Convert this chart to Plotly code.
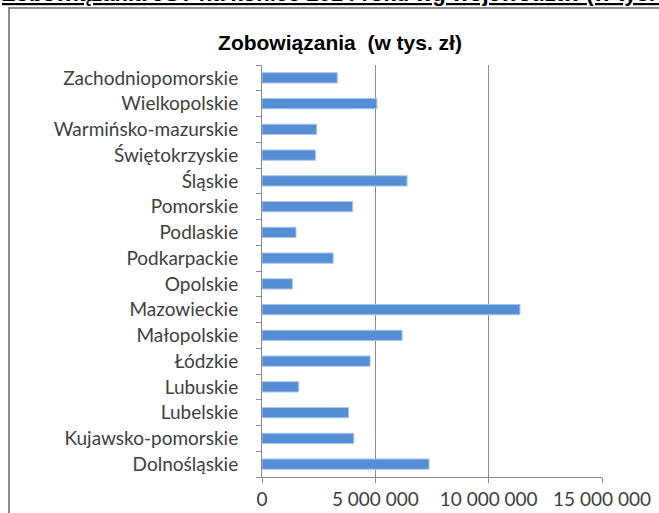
import plotly.graph_objects as go

# Dane (od dołu wykresu do góry)
wojewodztwa = [
    "Dolnośląskie", "Kujawsko-pomorskie", "Lubelskie", "Lubuskie", "Łódzkie",
    "Małopolskie", "Mazowieckie", "Opolskie", "Podkarpackie", "Podlaskie",
    "Pomorskie", "Śląskie", "Świętokrzyskie", "Warmińsko-mazurskie",
    "Wielkopolskie", "Zachodniopomorskie",
]
zobowiazania = [
    7370000, 4050000, 3820000, 1620000, 4770000,
    6180000, 11380000, 1340000, 3140000, 1500000,
    4000000, 6400000, 2360000, 2410000,
    5070000, 3320000,
]
x_ticks = [0, 5000000, 10000000, 15000000]

W, H = 659, 513
L, R, T, B = 262, 57, 65, 36
pw, ph = W - L - R, H - T - B


def px_x(p):
    return (p - L) / pw


def px_y(p):
    return (H - B - p) / ph


fig = go.Figure()
fig.add_trace(go.Bar(
    x=zobowiazania, y=wojewodztwa, orientation="h",
    marker=dict(color="#558ED5", line=dict(color="#a9c6ea", width=1)),
    showlegend=False,
))

# ramka wykresu (wychodzi poza kadr)
fig.add_shape(type="rect", xref="paper", yref="paper",
              x0=px_x(9), x1=px_x(W + 20), y0=px_y(H + 20), y1=px_y(8),
              line=dict(color="#8c8c8c", width=2), layer="below")

# ucięty nagłówek u góry
fig.add_annotation(
    xref="paper", yref="paper", x=px_x(0), y=px_y(8),
    xanchor="left", yanchor="bottom", showarrow=False,
    text="<u><b>Zobowiązania JST na koniec 2014 roku wg województw (w tys. zł)</b></u>",
    font=dict(family="Liberation Sans, Arial", size=22, color="black"),
)

fig.update_layout(
    width=W, height=H,
    margin=dict(l=L, r=R, t=T, b=B),
    paper_bgcolor="white", plot_bgcolor="white",
    separators=". ",
    bargap=0.6,
    title=dict(text="<b>Zobowiązania  (w tys. zł)</b>", xref="container", yref="container",
               x=340 / W, y=1 - 43 / H, xanchor="center", yanchor="middle",
               font=dict(family="Liberation Sans, Arial", size=21, color="black")),
    font=dict(family="Lato", size=19, color="#404040"),
    xaxis=dict(range=[0, 15000000], tickvals=x_ticks, tickformat=",.0f",
               showgrid=True, gridcolor="#8c8c8c", gridwidth=1,
               showline=True, linecolor="#8c8c8c", linewidth=1,
               ticks="outside", ticklen=5, tickcolor="#8c8c8c",
               zeroline=False, fixedrange=True, automargin=False),
    yaxis=dict(showline=True, linecolor="#8c8c8c", linewidth=1,
               ticks="outside", ticklen=5, tickcolor="#8c8c8c",
               tickson="boundaries", ticklabelstandoff=19,
               showgrid=False, fixedrange=True, automargin=False),
)

fig.write_html("out.html", config={"displayModeBar": False},
               post_script="document.body.style.margin='0';")
